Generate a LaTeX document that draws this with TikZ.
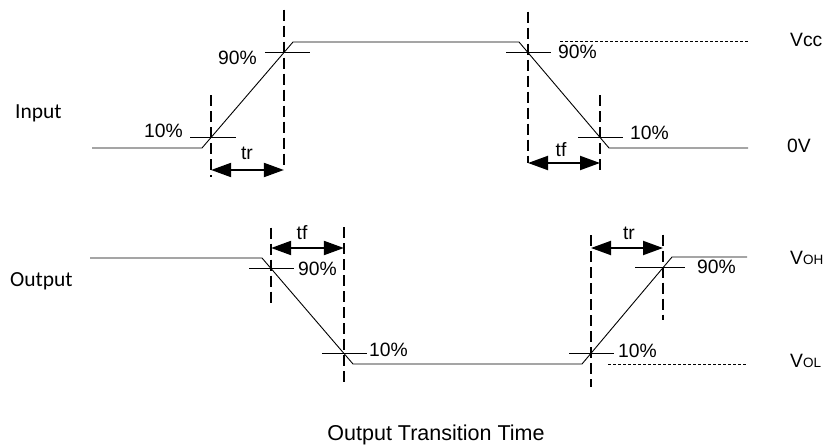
\documentclass[tikz,border=0pt]{standalone}
\usepackage{fontspec}
\setmainfont{Liberation Sans}
\newfontfamily\carl{Carlito}
\usetikzlibrary{arrows.meta,calc}
\begin{document}
\begin{tikzpicture}[x=1pt,y=-1pt,
  wave/.style={line width=0.9pt},
  tickline/.style={line width=0.9pt},
  guide/.style={line width=1.4pt, dash pattern=on 11pt off 5pt},
  refline/.style={line width=0.7pt, dash pattern=on 3pt off 2pt},
  span/.style={line width=2pt, {Triangle[length=20pt,width=14pt]}-{Triangle[length=20pt,width=14pt]}},
  lbl/.style={inner sep=0pt, font=\fontsize{19.3}{21}\selectfont},
  sidelbl/.style={inner sep=0pt, anchor=base west, font=\carl\fontsize{21.5}{22}\selectfont},
  ]
\useasboundingbox (0,0) rectangle (829,446);

% ---------- Input waveform ----------
\coordinate (i0) at (92,148);
\coordinate (i1) at (202,148);
\coordinate (i2) at (293,42);
\coordinate (i3) at (519,42);
\coordinate (i4) at (609,148);
\coordinate (i5) at (748,148);
\draw[wave] (i0) -- (i1) -- (i2) -- (i3) -- (i4) -- (i5);
\coordinate (ir10) at ($(i1)!0.1!(i2)$);
\coordinate (ir90) at ($(i1)!0.9!(i2)$);
\coordinate (if90) at ($(i3)!0.1!(i4)$);
\coordinate (if10) at ($(i3)!0.9!(i4)$);

\draw[tickline] ($(ir10)+(-21,0)$) -- ($(ir10)+(25,0)$);
\draw[tickline] ($(ir90)+(-19,0)$) -- ($(ir90)+(26,0)$);
\draw[tickline] ($(if90)+(-22,0)$) -- ($(if90)+(23,0)$);
\draw[tickline] ($(if10)+(-22,0)$) -- ($(if10)+(23,0)$);

\draw[guide] ($(ir10)+(0,-42)$) -- ($(ir10)+(0,40)$);
\draw[guide] ($(ir90)+(0,-43)$) -- ($(ir90)+(0,114)$);
\draw[guide] ($(if90)+(0,-41)$) -- ($(if90)+(0,110)$);
\draw[guide] ($(if10)+(0,-42)$) -- ($(if10)+(0,36)$);

\coordinate (trA) at (ir10 |- 0,170);
\coordinate (trB) at (ir90 |- 0,170);
\draw[span] (trA) -- (trB);
\coordinate (tfA) at (if90 |- 0,163);
\coordinate (tfB) at (if10 |- 0,163);
\draw[span] (tfA) -- (tfB);

\coordinate (vccA) at (560,41);
\coordinate (vccB) at (748,41);
\draw[refline] (vccA) -- (vccB);

\node[lbl, anchor=base east] (in10) at (183,138) {10\%};
\node[lbl, anchor=base east] (in90) at (257,65) {90\%};
\node[lbl, anchor=base] (intr) at (247,160) {tr};
\node[lbl, anchor=base west] (inf90) at (558,59) {90\%};
\node[lbl, anchor=base west] (inf10) at (630,140) {10\%};
\node[lbl, anchor=base] (intf) at (561,157) {tf};
\node[lbl, anchor=base west] (vcc) at (790,47) {Vcc};
\node[lbl, anchor=base west] (zv) at (787,153) {0V};
\node[sidelbl] (inlbl) at (15,119) {Input};

% ---------- Output waveform ----------
\coordinate (o0) at (90,258);
\coordinate (o1) at (262,258);
\coordinate (o2) at (353,364);
\coordinate (o3) at (582,364);
\coordinate (o4) at (672,257);
\coordinate (o5) at (747,257);
\draw[wave] (o0) -- (o1) -- (o2) -- (o3) -- (o4) -- (o5);
\coordinate (of90) at ($(o1)!0.1!(o2)$);
\coordinate (of10) at ($(o1)!0.9!(o2)$);
\coordinate (or10) at ($(o3)!0.1!(o4)$);
\coordinate (or90) at ($(o3)!0.9!(o4)$);

\draw[tickline] ($(of90)+(-22,0)$) -- ($(of90)+(23,0)$);
\draw[tickline] ($(of10)+(-22,0)$) -- ($(of10)+(23,0)$);
\draw[tickline] ($(or10)+(-22,0)$) -- ($(or10)+(23,0)$);
\draw[tickline] ($(or90)+(-28,0)$) -- ($(or90)+(22,0)$);

\draw[guide] ($(of90)+(0,-41)$) -- ($(of90)+(0,34)$);
\draw[guide] ($(of10)+(0,-126)$) -- ($(of10)+(0,32)$);
\draw[guide] ($(or10)+(0,-118)$) -- ($(or10)+(0,34)$);
\draw[guide] ($(or90)+(0,-33)$) -- ($(or90)+(0,52)$);

\coordinate (otfA) at (of90 |- 0,248);
\coordinate (otfB) at (of10 |- 0,248);
\draw[span] (otfA) -- (otfB);
\coordinate (otrA) at (or10 |- 0,248);
\coordinate (otrB) at (or90 |- 0,248);
\draw[span] (otrA) -- (otrB);

\coordinate (volA) at (608,364);
\coordinate (volB) at (747,364);
\draw[refline] (volA) -- (volB);

\node[lbl, anchor=base] (outf) at (302,240) {tf};
\node[lbl, anchor=base west] (outf90) at (298,275) {90\%};
\node[lbl, anchor=base west] (outf10) at (369,356) {10\%};
\node[lbl, anchor=base] (outr) at (629,240) {tr};
\node[lbl, anchor=base west] (outr90) at (697,273) {90\%};
\node[lbl, anchor=base west] (outr10) at (618,357) {10\%};
\node[lbl, anchor=base west] (voh) at (790,265) {V{\fontsize{13.5}{14}\selectfont OH}};
\node[lbl, anchor=base west] (vol) at (790,367) {V{\fontsize{13.5}{14}\selectfont OL}};
\node[sidelbl] (outlbl) at (10,286) {Output};

\node[inner sep=0pt, anchor=base, font=\fontsize{21.5}{22}\selectfont] (title) at (436,440) {Output Transition Time};
\end{tikzpicture}
\end{document}
